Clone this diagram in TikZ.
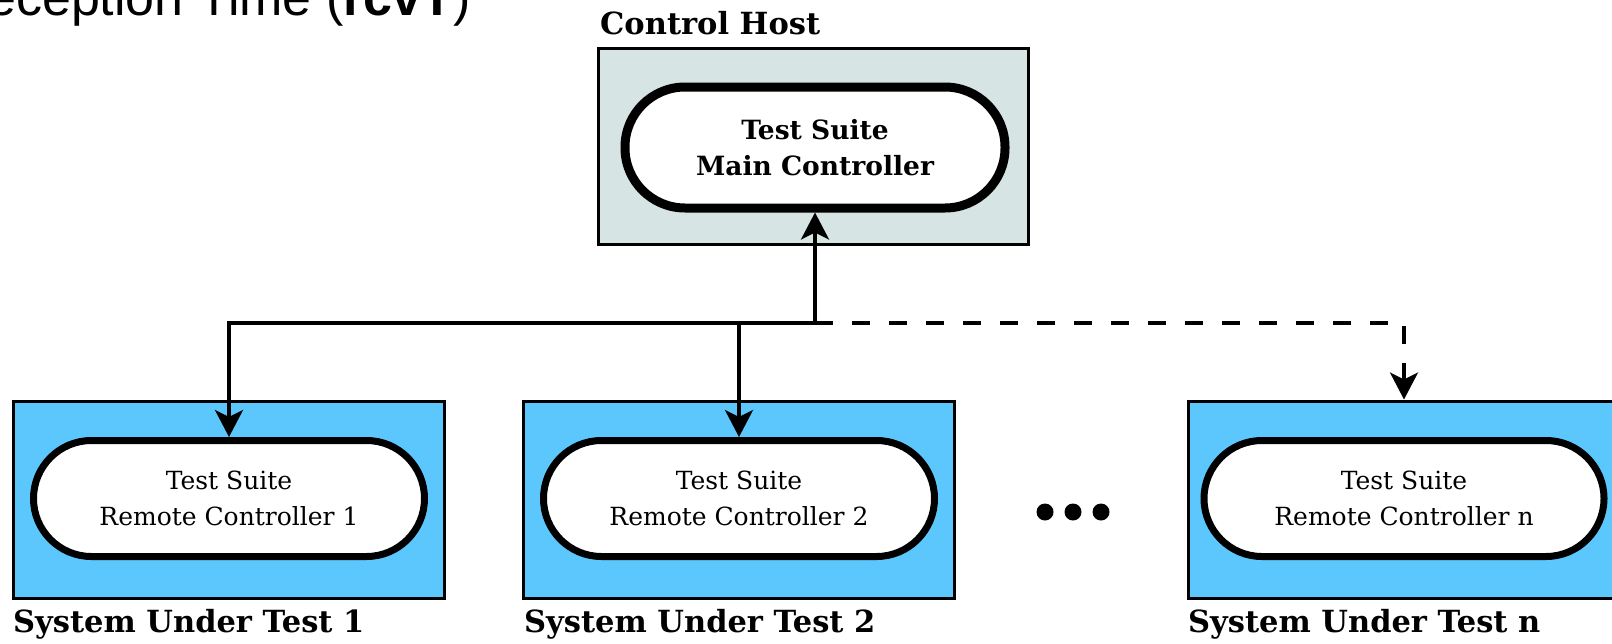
\documentclass[tikz,border=0pt]{standalone}
\usepackage{fontspec}
\setmainfont{DejaVu Serif}
\newfontfamily\lsans{Liberation Sans}
\usetikzlibrary{arrows.meta}
\definecolor{hostfill}{RGB}{214,228,228}
\definecolor{sutfill}{RGB}{91,199,252}
\begin{document}
\begin{tikzpicture}[x=1pt,y=-1pt,
  hostbox/.style={draw=black,line width=3pt,fill=hostfill,minimum width=430pt,minimum height=196pt,inner sep=0pt},
  sutbox/.style={draw=black,line width=3pt,fill=sutfill,minimum width=431pt,minimum height=197pt,inner sep=0pt},
  mainpill/.style={draw=black,line width=9pt,fill=white,rounded corners=60pt,minimum width=380pt,minimum height=121pt,align=center,
    font=\bfseries\fontsize{26.5}{36}\selectfont},
  remotepill/.style={draw=black,line width=7pt,fill=white,rounded corners=58pt,minimum width=391pt,minimum height=116pt,align=center,
    font=\fontsize{25}{36}\selectfont},
  lbl/.style={anchor=base west,inner sep=0pt,font=\bfseries\fontsize{30.5}{34}\selectfont},
  conn/.style={line width=3.5pt,-{Stealth[length=27pt,width=28pt,inset=7pt]}},
  dconn/.style={conn,dash pattern=on 18pt off 19pt}
]
\useasboundingbox (0,0) rectangle (1612,643);
\clip (0,0) rectangle (1612,643);
\fill[white] (0,0) rectangle (1612,643);

\node[anchor=base west,inner sep=0pt,font=\lsans\fontsize{52}{60}\selectfont] (top) at (-13,15) {eception Time (\textbf{rcvT})};

\node[hostbox] (host) at (813,146) {};
\node[lbl] (hostlbl) at (600,34) {Control Host};
\node[mainpill] (main) at (815,147.5) {Test Suite\\Main Controller};

\node[sutbox] (sut1) at (229,499.5) {};
\node[remotepill] (p1) at (229,498.5) {Test Suite\\Remote Controller 1};
\node[lbl] (l1) at (13,632) {System Under Test 1};

\node[sutbox] (sut2) at (739,499.5) {};
\node[remotepill] (p2) at (739,498.5) {Test Suite\\Remote Controller 2};
\node[lbl] (l2) at (524,632) {System Under Test 2};

\node[sutbox] (sutn) at (1404,499.5) {};
\node[remotepill,minimum width=400pt] (pn) at (1404,498.5) {Test Suite\\Remote Controller n};
\node[lbl] (ln) at (1188,632) {System Under Test n};

\coordinate (j) at (815,323);
\draw[conn] (j) -- (main.south);
\draw[conn] (j) -| (p1.north);
\draw[conn] (p2.north |- j) -- (p2.north);
\draw[dconn] (j) -| (sutn.north);

\fill (1045,512) circle (8.5pt);
\fill (1073,512) circle (8.5pt);
\fill (1101,512) circle (8.5pt);
\end{tikzpicture}
\end{document}
